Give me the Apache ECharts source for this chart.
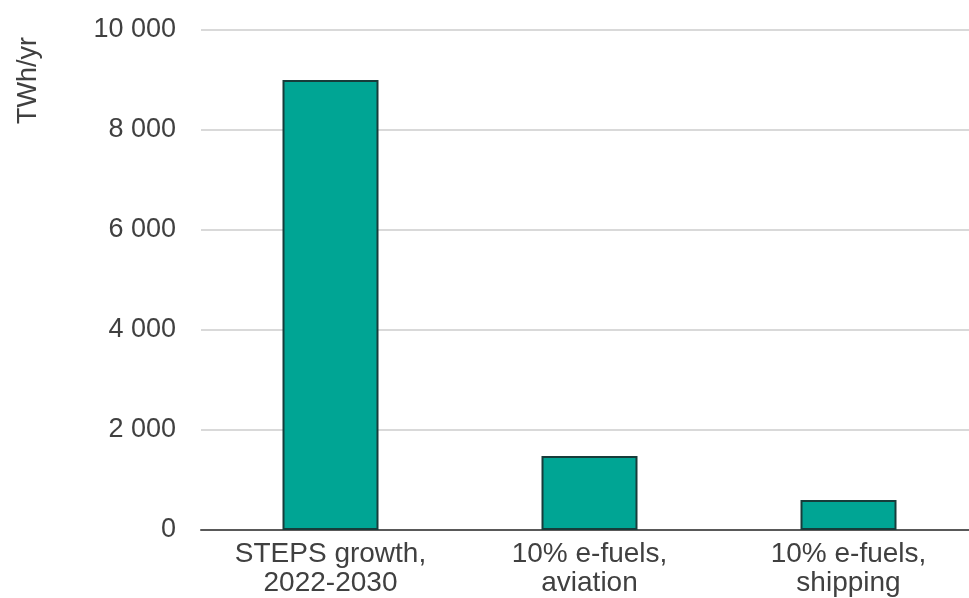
<!DOCTYPE html>
<html>
<head>
<meta charset="utf-8">
<script src="https://cdn.jsdelivr.net/npm/echarts@6/dist/echarts.min.js"></script>
<style>html,body{margin:0;padding:0;background:#fff;overflow:hidden}#c{width:978px;height:598px}</style>
</head>
<body>
<div id="c"></div>
<script>
const categories = ["STEPS growth,\n2022-2030", "10% e-fuels,\naviation", "10% e-fuels,\nshipping"];
const values = [9000, 1480, 600];
const yTicks = { min: 0, max: 10000, interval: 2000 };
const yAxisName = "TWh/yr";

const chart = echarts.init(document.getElementById('c'), null, { renderer: 'canvas' });
chart.setOption({
  animation: false,
  backgroundColor: '#ffffff',
  grid: { left: 201, top: 30, right: 0, height: 500, containLabel: false },
  graphic: [{
    type: 'text', x: 15, y: 124, rotation: Math.PI / 2,
    style: { text: yAxisName, font: '27px "Liberation Sans", Arial, sans-serif', fill: '#404040' }
  }],
  xAxis: {
    type: 'category', data: categories,
    axisLine: { lineStyle: { color: '#595959', width: 2 } },
    axisTick: { show: false },
    axisLabel: { color: '#404040', fontSize: 28, fontFamily: '"Liberation Sans", Arial, sans-serif', lineHeight: 29, margin: 10 }
  },
  yAxis: {
    type: 'value', min: yTicks.min, max: yTicks.max, interval: yTicks.interval,
    axisLine: { show: false }, axisTick: { show: false },
    splitLine: { lineStyle: { color: '#d9d9d9', width: 2 } },
    axisLabel: {
      color: '#404040', fontSize: 27, fontFamily: '"Liberation Sans", Arial, sans-serif', margin: 25,
      formatter: v => String(v).replace(/\B(?=(\d{3})+(?!\d))/g, ' ')
    }
  },
  series: [{
    type: 'bar', data: values, barWidth: 96,
    itemStyle: { color: '#00a594', borderColor: '#173c3a', borderWidth: 2 }
  }]
});
</script>
</body>
</html>
